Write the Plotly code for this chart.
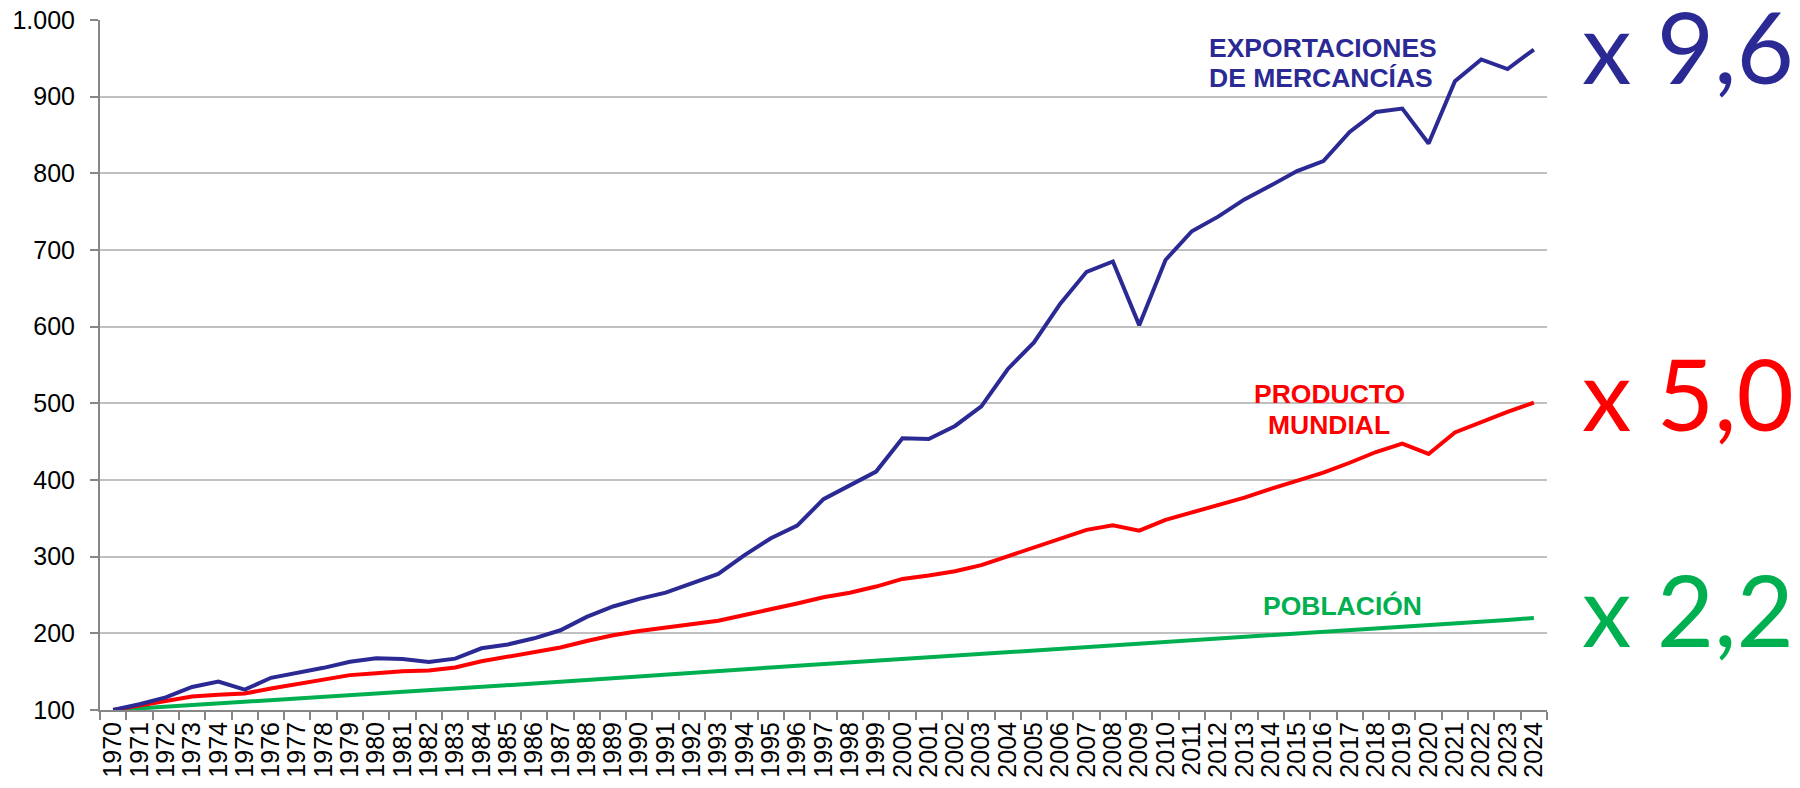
import plotly.graph_objects as go

years = [str(y) for y in range(1970, 2025)]

exportaciones = [100, 107.5, 116.5, 130, 137, 126.5, 142, 148, 155, 163,
                 167.5, 166.5, 162.5, 167, 180.5, 185.5, 193.5, 204, 221.5, 235,
                 245, 253, 265.5, 277.5, 302, 324, 340.5, 375, 393, 411,
                 454.5, 453.5, 470.5, 496, 544.5, 579.5, 630, 671.5, 685, 602,
                 687, 724.5, 743.5, 766, 784, 803, 816, 854, 880, 884.5,
                 839, 920, 948.5, 936, 961.5]

producto = [100, 105.5, 112, 117.5, 120, 121.5, 128, 134, 140.5, 145.5,
            148, 150.5, 151.5, 155.5, 163.5, 169.5, 175, 181.5, 190, 197.5,
            203, 207.5, 212.5, 216.5, 224, 231, 239, 247, 253, 261,
            271, 275.5, 281, 289, 300.5, 311.5, 323, 335, 341, 334,
            348, 358, 367, 377, 388.5, 399, 409.5, 422.5, 436.5, 447.5,
            434, 462, 476, 489, 501]

poblacion = [100, 102.1, 104.2, 106.3, 108.4, 110.4, 112.4, 114.4, 116.5, 118.6,
             120.7, 122.9, 125.1, 127.4, 129.6, 131.9, 134.3, 136.7, 139.1, 141.6,
             144.0, 146.4, 148.7, 151.0, 153.3, 155.5, 157.7, 159.9, 162.0, 164.1,
             166.3, 168.4, 170.5, 172.6, 174.7, 176.9, 179.0, 181.2, 183.5, 185.7,
             188.2, 190.5, 192.8, 195.1, 197.4, 199.7, 202.0, 204.3, 206.5, 208.7,
             210.8, 212.9, 215.0, 217.5, 220.0]

y_ticks = [100, 200, 300, 400, 500, 600, 700, 800, 900, 1000]
y_tick_labels = ["100", "200", "300", "400", "500", "600", "700", "800", "900", "1.000"]

BLUE = "#2B2A94"
RED = "#FF0000"
GREEN = "#00B050"

fig = go.Figure()
for vals, col in [(poblacion, GREEN), (producto, RED), (exportaciones, BLUE)]:
    fig.add_trace(go.Scatter(x=years, y=vals, mode="lines",
                             line=dict(color=col, width=4), showlegend=False,
                             hoverinfo="x+y"))

W, H = 1800, 788
PL, PR, PT, PB = 100, 1547, 20, 710   # plot area in page pixels
L, R, T, B = PL, W - PR, PT, H - PB
pw, ph = PR - PL, PB - PT

def px(xp):
    return (xp - PL) / pw

def py(yp):
    return (PB - yp) / ph

ann = []
lab_font = "Arial, Liberation Sans, sans-serif"
def lab(text, x, y, color, anchor):
    ann.append(dict(text=f"<b>{text}</b>", x=px(x), y=py(y), xref="paper", yref="paper",
                    xanchor=anchor, yanchor="middle", showarrow=False,
                    font=dict(family=lab_font, size=26.5, color=color)))

lab("EXPORTACIONES", 1207, 48, BLUE, "left")
lab("DE MERCANCÍAS", 1207, 78, BLUE, "left")
lab("PRODUCTO", 1329, 394, RED, "center")
lab("MUNDIAL", 1329, 425, RED, "center")
lab("POBLACIÓN", 1342, 606, GREEN, "center")

def big(text, y, color):
    ann.append(dict(text=text, x=px(1580), y=py(y), xref="paper", yref="paper",
                    xanchor="left", yanchor="middle", showarrow=False,
                    font=dict(family="Lato, sans-serif", size=99, color=color)))

big("x 9,6", 45, BLUE)
big("x 5,0", 392, RED)
big("x 2,2", 608, GREEN)

fig.update_layout(
    width=W, height=H,
    margin=dict(l=L, r=R, t=T, b=B, pad=0, autoexpand=False),
    paper_bgcolor="white", plot_bgcolor="white",
    annotations=ann,
    xaxis=dict(type="category", range=[-0.5, len(years) - 0.5], tickson="boundaries",
               tickmode="array", tickvals=years, ticktext=years,
               showgrid=False, showline=True, linecolor="#878787", linewidth=2,
               ticks="outside", ticklen=8, tickwidth=1.5, tickcolor="#878787",
               tickangle=-90, tickfont=dict(family=lab_font, size=25, color="black"),
               ticklabeloverflow="allow",
               zeroline=False, automargin=False),
    yaxis=dict(range=[100, 1000], tickvals=y_ticks, ticktext=y_tick_labels,
               showgrid=True, gridcolor="#C0C0C0", gridwidth=2,
               showline=True, linecolor="#878787", linewidth=2,
               ticks="outside", ticklen=8, tickwidth=1.5, tickcolor="#878787",
               tickfont=dict(family=lab_font, size=25, color="black"),
               ticklabeloverflow="allow",
               ticklabelstandoff=10, zeroline=False, automargin=False),
)

fig.write_html("out.html",
               config={"displayModeBar": False},
               post_script="document.body.style.margin='0';document.body.style.overflow='hidden';")
